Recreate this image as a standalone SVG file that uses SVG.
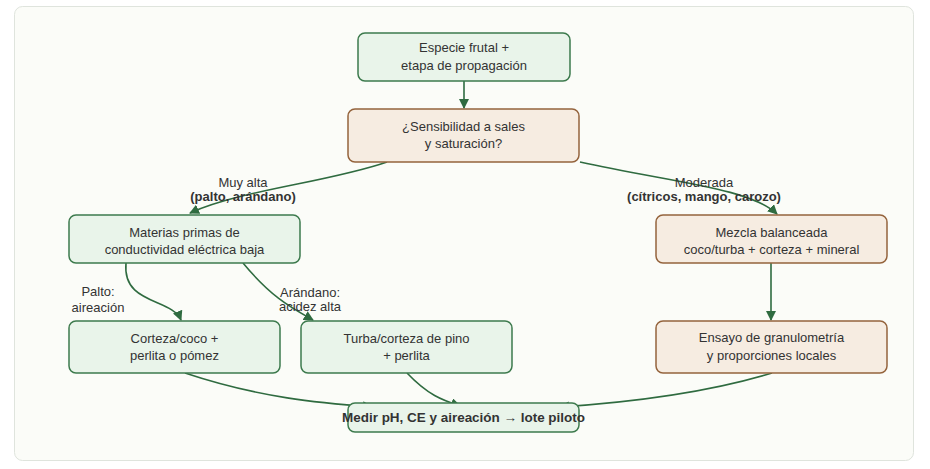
<svg xmlns="http://www.w3.org/2000/svg" width="930" height="469" viewBox="0 0 930 469">
<style>
.g rect{fill:#e9f4ea;stroke:#3d7a4d;stroke-width:1.5}
.o rect{fill:#f6ece1;stroke:#94633c;stroke-width:1.5}
text{font-family:"Liberation Sans",Arial,sans-serif;font-size:13px;fill:#333;text-anchor:middle}
.b{font-weight:bold}
.e path{fill:none;stroke:#2f6b40;stroke-width:1.6}
</style>
<defs>
<marker id="ah" viewBox="0 0 10 10" refX="9" refY="5" markerWidth="10" markerHeight="10" markerUnits="userSpaceOnUse" orient="auto">
<path d="M0,0 L10,5 L0,10 z" fill="#2f6b40"/>
</marker>
</defs>
<rect x="14.5" y="6.5" width="899" height="454" rx="8" fill="#fbfcf8" stroke="#dfe4dd"/>
<g class="e" id="edges">
<path d="M464,81 L464,108" marker-end="url(#ah)"/>
<path d="M387,162 C330,182 240,190 190,213" marker-end="url(#ah)"/>
<path d="M580,162 C670,182 750,188 777,214" marker-end="url(#ah)"/>
<path d="M126,263 C122,305 172,298 181,320" marker-end="url(#ah)"/>
<path d="M243,263 C272,298 292,308 313,320" marker-end="url(#ah)"/>
<path d="M771,263 L771,320" marker-end="url(#ah)"/>
<path d="M185,373 C260,398 320,403 372,407" marker-end="url(#ah)"/>
<path d="M407,373 C428,395 442,400 460,406" marker-end="url(#ah)"/>
<path d="M772,373 C700,395 620,403 560,407" marker-end="url(#ah)"/>
</g>
<g id="edge-labels">
<text x="243" y="187">Muy alta</text>
<text x="243" y="201" class="b">(palto, arándano)</text>
<text x="704" y="187">Moderada</text>
<text x="704" y="201" class="b">(cítricos, mango, carozo)</text>
<text x="98" y="296">Palto:</text>
<text x="98" y="312">aireación</text>
<text x="310" y="297">Arándano:</text>
<text x="310" y="311">acidez alta</text>
</g>
<g id="n1" class="g"><rect x="358" y="33" width="212" height="48" rx="7"/><text x="464" y="52">Especie frutal +</text><text x="464" y="69.5">etapa de propagación</text></g>
<g id="n2" class="o"><rect x="348" y="109" width="231" height="53" rx="7"/><text x="463.5" y="131">¿Sensibilidad a sales</text><text x="463.5" y="148">y saturación?</text></g>
<g id="n3" class="g"><rect x="69" y="215" width="231" height="48" rx="7"/><text x="184.5" y="236.5">Materias primas de</text><text x="184.5" y="253.5">conductividad eléctrica baja</text></g>
<g id="n4" class="g"><rect x="69" y="321" width="211" height="52" rx="7"/><text x="174.5" y="342.5">Corteza/coco +</text><text x="174.5" y="359.5">perlita o pómez</text></g>
<g id="n5" class="g"><rect x="301" y="321" width="211" height="52" rx="7"/><text x="406.5" y="342.5">Turba/corteza de pino</text><text x="406.5" y="359.5">+ perlita</text></g>
<g id="n6" class="o"><rect x="656" y="215" width="231" height="48" rx="7"/><text x="771.5" y="236.5">Mezcla balanceada</text><text x="771.5" y="253.5">coco/turba + corteza + mineral</text></g>
<g id="n7" class="o"><rect x="656" y="321" width="231" height="52" rx="7"/><text x="771.5" y="342">Ensayo de granulometría</text><text x="771.5" y="359.5">y proporciones locales</text></g>
<g id="n8" class="g"><rect x="348" y="403" width="231" height="29" rx="7"/><text x="463.5" y="421.5" class="b" textLength="243" lengthAdjust="spacingAndGlyphs">Medir pH, CE y aireación → lote piloto</text></g>
</svg>
